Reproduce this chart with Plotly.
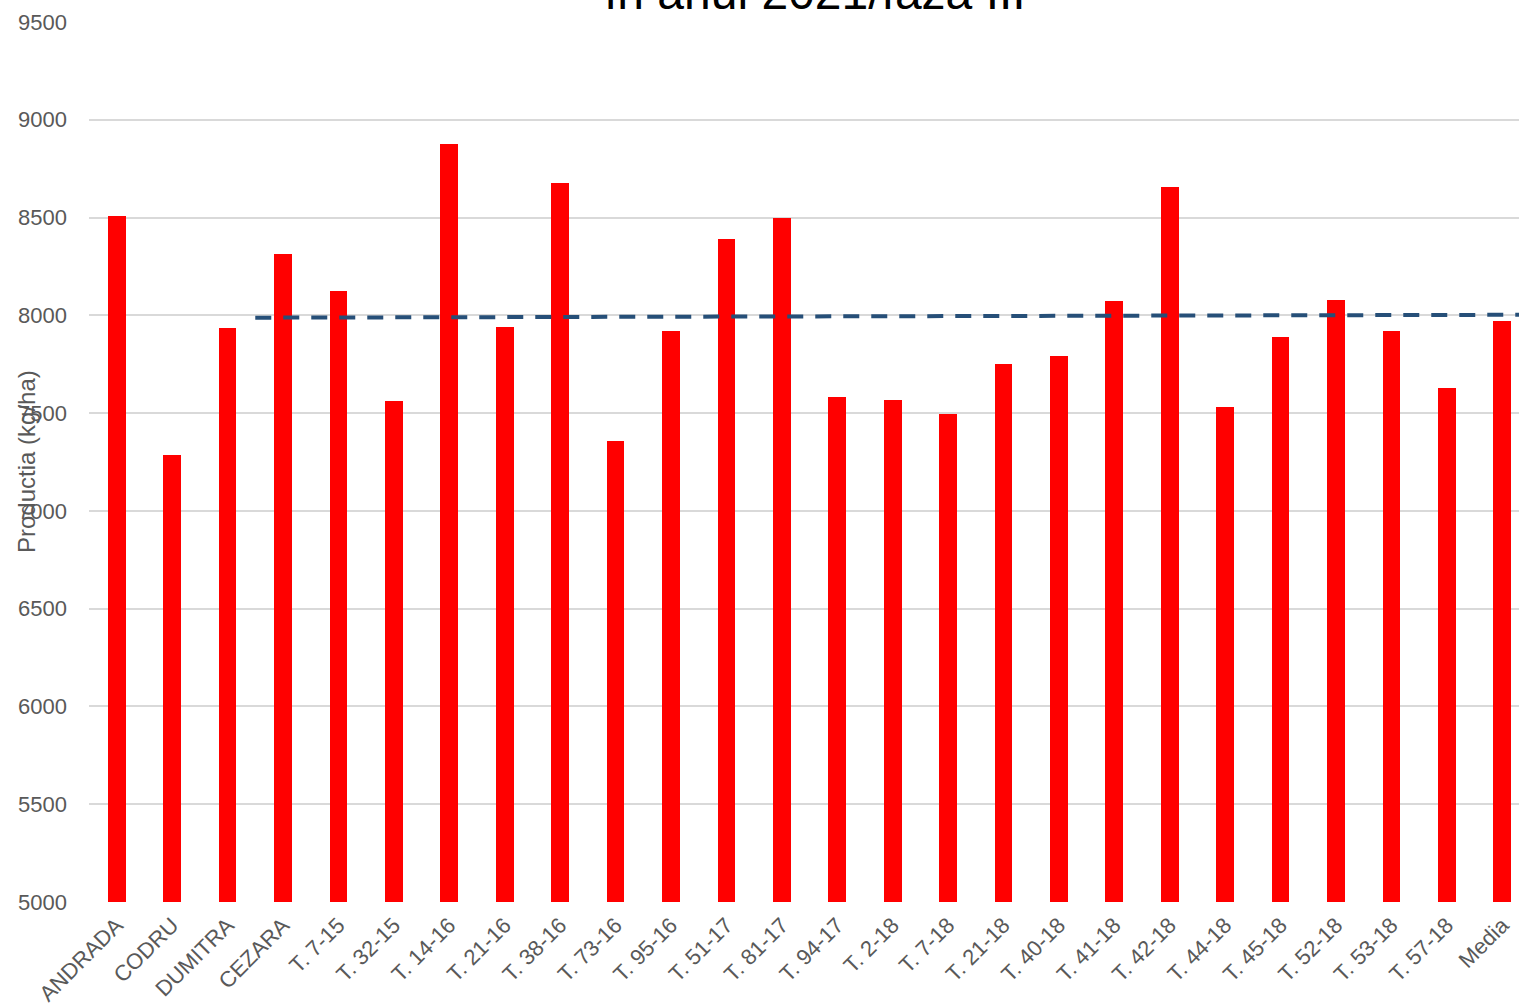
import plotly.graph_objects as go

categories = ["ANDRADA", "CODRU", "DUMITRA", "CEZARA", "T. 7-15", "T. 32-15", "T. 14-16",
              "T. 21-16", "T. 38-16", "T. 73-16", "T. 95-16", "T. 51-17", "T. 81-17",
              "T. 94-17", "T. 2-18", "T. 7-18", "T. 21-18", "T. 40-18", "T. 41-18",
              "T. 42-18", "T. 44-18", "T. 45-18", "T. 52-18", "T. 53-18", "T. 57-18", "Media"]
production = [8510, 7287, 7937, 8312, 8125, 7560, 8877, 7942, 8678, 7355, 7920, 8391, 8497,
              7582, 7566, 7497, 7751, 7791, 8074, 8656, 7529, 7888, 8079, 7920, 7628, 7973]
trend_values = [7988, 8003]
y_ticks = [5000, 5500, 6000, 6500, 7000, 7500, 8000, 8500, 9000, 9500]
title_text = "în anul 2021/faza III"
y_title = "Productia (kg/ha)"

idx = list(range(len(categories)))
trend_x = [categories.index("CEZARA") - 0.5, len(categories) - 0.5]

FONT = "Liberation Sans, Arial, sans-serif"
GREY = "#595959"

fig = go.Figure()
fig.add_trace(go.Bar(x=idx, y=production, marker=dict(color="#ff0000", line=dict(width=0)),
                     width=0.32, showlegend=False))
fig.add_trace(go.Scatter(x=trend_x, y=trend_values, mode="lines",
                         line=dict(color="#264f78", width=4, dash="16px,12px"),
                         showlegend=False))

W, H = 1530, 1007
L, R, T, B = 89, 0, 22, 105
PW = W - L - R
fig.update_layout(
    width=W, height=H,
    margin=dict(l=L, r=R, t=T, b=B, pad=0, autoexpand=False),
    plot_bgcolor="white", paper_bgcolor="white",
    font=dict(family=FONT, color=GREY),
    bargap=0,
    xaxis=dict(range=[-0.5, len(categories) - 0.5], tickmode="array", tickvals=idx,
               ticktext=categories, tickangle=-45, showgrid=False, zeroline=False,
               showline=False, ticks="", ticklabelstandoff=5, automargin=False,
               tickfont=dict(size=22, color=GREY, family=FONT)),
    yaxis=dict(range=[5000, 9500], tickmode="array", tickvals=y_ticks,
               showgrid=True, gridcolor="#d9d9d9", gridwidth=2, zeroline=False,
               showline=False, ticks="", ticklabelstandoff=21, automargin=False,
               tickfont=dict(size=22, color=GREY, family=FONT)),
    annotations=[
        dict(text=title_text, xref="paper", yref="paper", x=(814.5 - L) / PW, y=1,
             xanchor="center", yanchor="bottom", yshift=1, showarrow=False,
             font=dict(size=48, color="#000000", family=FONT)),
        dict(text=y_title, xref="paper", yref="paper", x=-(L - 26) / PW, y=0.5,
             xanchor="center", yanchor="middle", textangle=-90, showarrow=False,
             font=dict(size=24, color=GREY, family=FONT)),
    ],
)

fig.write_html("out.html", config={"displayModeBar": False},
               post_script="document.body.style.margin='0';document.body.style.overflow='hidden';")
